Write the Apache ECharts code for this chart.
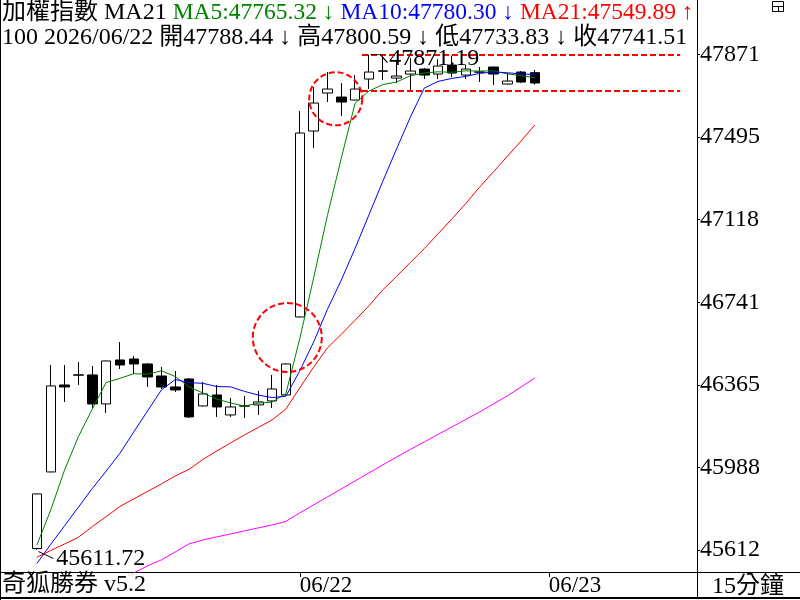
<!DOCTYPE html>
<html>
<head>
<meta charset="utf-8">
<title>加權指數 15分鐘</title>
<script src="https://cdn.jsdelivr.net/npm/echarts@6.0.0/dist/echarts.min.js"></script>
<style>
  html, body { margin: 0; padding: 0; background: #fff; }
  #main { width: 800px; height: 600px; }
</style>
</head>
<body>
<div id="main"></div>
<script>
// 15分K 資料 (06/19 ~ 06/22)
var dates = [
  '06/19', '06/19', '06/19', '06/19', '06/19', '06/19', '06/19', '06/19', '06/19', '06/19',
  '06/19', '06/19', '06/19', '06/19', '06/19', '06/19', '06/19', '06/19', '06/19',
  '06/22', '06/22', '06/22', '06/22', '06/22', '06/22', '06/22', '06/22', '06/22', '06/22',
  '06/22', '06/22', '06/22', '06/22', '06/22', '06/22', '06/22', '06/22',
  '06/23', '', '', '', '', '', '', '', '', '', ''
];
var opens = [45618, 45967.4, 46364, 46408.5, 46409.7, 46277.5, 46478.1, 46482.6, 46459.9, 46405.2,
  46355, 46391.5, 46268.4, 46318.5, 46227.3, 46267.5, 46272.9, 46291.2, 46318.5, 46674.2,
  47522.4, 47695.6, 47677.4, 47663.7, 47759.5, 47795, 47764, 47782.3, 47805.1, 47782.3,
  47823.3, 47777.7, 47790.8, 47814.2, 47736.7, 47791.4, 47788.44];
var closes = [45867.1, 46359.6, 46355, 46410.5, 46277.5, 46473.6, 46455.3, 46459.9, 46400.6, 46355,
  46341.3, 46218.2, 46323.1, 46263.8, 46263.8, 46269, 46286.6, 46345.9, 46459.9, 47513.2,
  47650, 47713.9, 47654.6, 47713.9, 47791.4, 47797, 47773.2, 47796, 47777.7, 47818.8,
  47786.8, 47805.1, 47791.6, 47782.3, 47750.4, 47745.8, 47741.51];
var lows = [45611.72, 45966, 46286.6, 46364.1, 46259.2, 46236.4, 46437.1, 46414.3, 46355, 46345.9,
  46332.2, 46213.6, 46266, 46218.2, 46218.2, 46213.6, 46227.3, 46259.2, 46316, 46672,
  47444.8, 47654.6, 47590.8, 47662, 47713.9, 47754.9, 47741.2, 47709.3, 47759.5, 47759.5,
  47768.6, 47759.5, 47745.8, 47732.1, 47735, 47741.2, 47733.83];
var highs = [45869, 46455.3, 46455.3, 46469, 46450.8, 46475, 46560.2, 46496.4, 46464.5, 46446.2,
  46428, 46396, 46377.8, 46364.1, 46304.8, 46314, 46336.8, 46409.7, 46462, 47613.6,
  47723, 47791.4, 47741.2, 47777.7, 47871.19, 47859.8, 47841.6, 47855.2, 47809.6, 47850.7,
  47866, 47823.3, 47814.2, 47816, 47786.8, 47796, 47800.59];

var ma5 = [45634.5, 45794.1, 45976.5, 46128.4, 46253.9, 46375.2, 46394.3, 46415.3, 46413.4, 46428.9,
  46402.4, 46355, 46327.6, 46300.3, 46282, 46267.6, 46281.3, 46285.8, 46325, 46574.9,
  46851.1, 47136.6, 47398.3, 47649.1, 47704.8, 47734.2, 47746, 47774.3, 47787.1, 47792.5,
  47790.5, 47796.9, 47796, 47796.9, 47783.2, 47775, 47765.32];
var ma10 = [45549.7, 45637.3, 45722.1, 45806.9, 45891.7, 45970.6, 46052.7, 46149.8, 46245.6, 46341.6,
  46389, 46374.8, 46371.5, 46356.8, 46355.5, 46335, 46318.1, 46306.7, 46312.7, 46428.5,
  46559.4, 46708.9, 46842.1, 46987.1, 47139.8, 47292.6, 47441.3, 47586.3, 47718.1, 47748.7,
  47762.3, 47771.5, 47785.1, 47792, 47787.9, 47782.8, 47780.30];
var ma21 = [45578.4, 45609, 45638.6, 45669.6, 45718, 45763.1, 45810, 45844.3, 45878.5, 45912.7,
  45949.2, 45979.7, 46024.4, 46063.2, 46099.6, 46136.1, 46170.3, 46204.5, 46254.7, 46350.4,
  46445.3, 46533.2, 46594.9, 46659.5, 46725.3, 46797.6, 46859.5, 46923.3, 46986.1, 47053.6,
  47121.8, 47191.5, 47266.4, 47335.9, 47406.7, 47477.3, 47549.89];
var ma60 = [45301.6, 45333.6, 45365.5, 45397.5, 45429.4, 45456.8, 45484.2, 45506.8, 45538.8, 45566.1,
  45602.6, 45639.1, 45657.3, 45671, 45684.7, 45698.4, 45712.1, 45725.8, 45741.7, 45780.4,
  45816.9, 45853.4, 45889.9, 45926.4, 45962.9, 45999.3, 46035.8, 46070, 46104.2, 46138.4,
  46172.6, 46206.8, 46241, 46277.5, 46314, 46355, 46396];

// 標題列的漲跌箭頭 (MA5, MA10, MA21, 開, 高, 低)
var headArrows = ['↓', '↓', '↑', '↓', '↓', '↓'];

// 右側刻度
var tickValues = [45611.72, 45988.30, 46364.88, 46741.46, 47118.03, 47494.61, 47871.19];
var tickLabels = ['45612', '45988', '46365', '46741', '47118', '47495', '47871'];

// 標註: 紅色虛線區間, 紅色虛線圈 [索引, 數值]
var boxHigh = 47871.19;
var boxLow = 47704.8;
var boxRange = [23.5, 46.5];
var circleA = [21.6, 47669.6];
var circleB = [18.1, 46580.7];

var FONT = '"Liberation Serif", "Noto Sans CJK TC", serif';

var last = closes.length - 1;
var lowIdx = lows.indexOf(Math.min.apply(null, lows));
var highIdx = highs.indexOf(Math.max.apply(null, highs));

var candleData = opens.map(function (o, i) {
  return [o, closes[i], lows[i], highs[i]];
});

function f2(v) { return v.toFixed(2); }

var line1 = '{k|加權指數 MA21 }' +
  '{g|MA5:' + f2(ma5[last]) + ' ' + headArrows[0] + ' }' +
  '{b|MA10:' + f2(ma10[last]) + ' ' + headArrows[1] + ' }' +
  '{r|MA21:' + f2(ma21[last]) + ' ' + headArrows[2] + '}';
var line2 = '{k|100 2026/' + dates[last] + ' 開' + f2(opens[last]) + ' ' + headArrows[3] +
  ' 高' + f2(highs[last]) + ' ' + headArrows[4] +
  ' 低' + f2(lows[last]) + ' ' + headArrows[5] +
  ' 收' + f2(closes[last]) + '}';

function richStyle(color, size) {
  return { color: color, fontSize: size || 24, fontFamily: FONT, lineHeight: 25 };
}

function dayStart(i) {
  return i > 0 && dates[i] !== '' && dates[i] !== dates[i - 1];
}

var chart = echarts.init(document.getElementById('main'), null, { renderer: 'canvas' });

var dashRed = { color: '#ff0000', type: [6, 3], width: 2 };

chart.setOption({
  backgroundColor: '#fff',
  animation: false,
  title: {
    left: 2,
    top: 0,
    padding: 0,
    text: line1 + '\n' + line2,
    textStyle: {
      fontSize: 24,
      fontFamily: FONT,
      fontWeight: 'normal',
      lineHeight: 25,
      rich: {
        k: richStyle('#000'),
        g: richStyle('#008000', 23.5),
        b: richStyle('#0000ff', 23.5),
        r: richStyle('#ff0000', 23.5)
      }
    }
  },
  grid: { left: 30, right: 106, top: 0, bottom: 28 },
  xAxis: [{
    type: 'category',
    data: dates,
    boundaryGap: true,
    axisLine: { show: false },
    axisTick: {
      show: true,
      alignWithLabel: true,
      interval: dayStart,
      length: 5,
      lineStyle: { color: '#000' }
    },
    axisLabel: {
      interval: dayStart,
      align: 'left',
      margin: 2,
      color: '#000',
      fontSize: 23,
      fontFamily: FONT
    },
    splitLine: { show: false }
  }, {
    // 標註用的數值軸, 與K線位置對齊
    type: 'value',
    min: -0.5,
    max: dates.length - 0.5,
    show: false
  }],
  yAxis: {
    type: 'value',
    position: 'right',
    offset: 3,
    min: 45511,
    max: 48120,
    axisLine: { show: true, onZero: false, lineStyle: { color: '#000', width: 1 } },
    axisTick: { show: true, customValues: tickValues, length: 3, lineStyle: { color: '#000' } },
    minorTick: { show: true, splitNumber: 4, length: 1, lineStyle: { color: '#000' } },
    axisLabel: {
      customValues: tickValues,
      formatter: function (v) {
        var i = tickValues.indexOf(v);
        return i >= 0 ? tickLabels[i] : String(Math.round(v));
      },
      margin: 3,
      color: '#000',
      fontSize: 24,
      fontFamily: FONT
    },
    splitLine: { show: false }
  },
  series: [{
    type: 'candlestick',
    data: candleData,
    barWidth: 10,
    itemStyle: {
      color: '#fff',
      color0: '#000',
      borderColor: '#000',
      borderColor0: '#000',
      borderColorDoji: '#000',
      borderWidth: 1
    },
    markPoint: {
      silent: true,
      data: [{
        coord: [lowIdx, lows[lowIdx]],
        symbol: 'path://M0,0L15,7',
        symbolSize: [15, 7],
        symbolOffset: [9, 5],
        itemStyle: { color: 'transparent', borderColor: '#000', borderWidth: 1 },
        label: {
          show: true, position: 'right', distance: 2, offset: [0, 4],
          formatter: f2(lows[lowIdx]), color: '#000', fontSize: 24, fontFamily: FONT
        }
      }, {
        coord: [highIdx, highs[highIdx]],
        symbol: 'path://M0,0L10,0L17,8',
        symbolSize: [17, 8],
        symbolOffset: [10, 4],
        itemStyle: { color: 'transparent', borderColor: '#000', borderWidth: 1 },
        label: {
          show: true, position: 'right', distance: 1, offset: [0, 0],
          formatter: f2(highs[highIdx]), color: '#000', fontSize: 24, fontFamily: FONT
        }
      }]
    }
  }, {
    type: 'line', name: 'MA5', data: ma5, symbol: 'none',
    lineStyle: { color: '#008000', width: 1 }, itemStyle: { color: '#008000' }
  }, {
    type: 'line', name: 'MA10', data: ma10, symbol: 'none',
    lineStyle: { color: '#0000ff', width: 1 }, itemStyle: { color: '#0000ff' }
  }, {
    type: 'line', name: 'MA21', data: ma21, symbol: 'none',
    lineStyle: { color: '#ff0000', width: 1 }, itemStyle: { color: '#ff0000' }
  }, {
    type: 'line', name: 'MA60', data: ma60, symbol: 'none',
    lineStyle: { color: '#ff00ff', width: 1 }, itemStyle: { color: '#ff00ff' }
  }, {
    // 紅色虛線與圈
    type: 'line',
    xAxisIndex: 1,
    data: [],
    markLine: {
      silent: true,
      symbol: ['none', 'none'],
      label: { show: false },
      lineStyle: dashRed,
      data: [
        [{ coord: [boxRange[0], boxHigh] }, { coord: [boxRange[1], boxHigh] }],
        [{ coord: [boxRange[0], boxLow] }, { coord: [boxRange[1], boxLow] }]
      ]
    },
    markPoint: {
      silent: true,
      symbol: 'circle',
      label: { show: false },
      itemStyle: { color: 'transparent', borderColor: '#ff0000', borderWidth: 2, borderType: [6, 3] },
      data: [
        { coord: circleA, symbolSize: 53 },
        { coord: circleB, symbolSize: 69 }
      ]
    }
  }],
  graphic: [
    { type: 'line', shape: { x1: 0.5, y1: 0, x2: 0.5, y2: 600 }, style: { stroke: '#000', lineWidth: 1 } },
    { type: 'line', shape: { x1: 0, y1: 572.5, x2: 800, y2: 572.5 }, style: { stroke: '#000', lineWidth: 1 } },
    { type: 'line', shape: { x1: 0, y1: 598, x2: 800, y2: 598 }, style: { stroke: '#000', lineWidth: 2 } },
    { type: 'line', shape: { x1: 697.5, y1: 572, x2: 697.5, y2: 598 }, style: { stroke: '#000', lineWidth: 1 } },
    {
      type: 'text', x: 2, y: 585,
      style: { text: '奇狐勝券 v5.2', font: '24px ' + FONT, fill: '#000', verticalAlign: 'middle' }
    },
    {
      type: 'text', x: 712, y: 587,
      style: { text: '15分鐘', font: '24px ' + FONT, fill: '#000', verticalAlign: 'middle' }
    },
    {
      type: 'group', x: 772, y: 1,
      children: [
        { type: 'rect', shape: { x: 0.5, y: 0.5, width: 11, height: 10 }, style: { fill: '#fff', stroke: '#000', lineWidth: 1 } },
        { type: 'line', shape: { x1: 0, y1: 5.5, x2: 12, y2: 5.5 }, style: { stroke: '#000', lineWidth: 1 } },
        { type: 'line', shape: { x1: 6.5, y1: 5, x2: 6.5, y2: 11 }, style: { stroke: '#000', lineWidth: 1 } }
      ]
    }
  ]
});
</script>
</body>
</html>
